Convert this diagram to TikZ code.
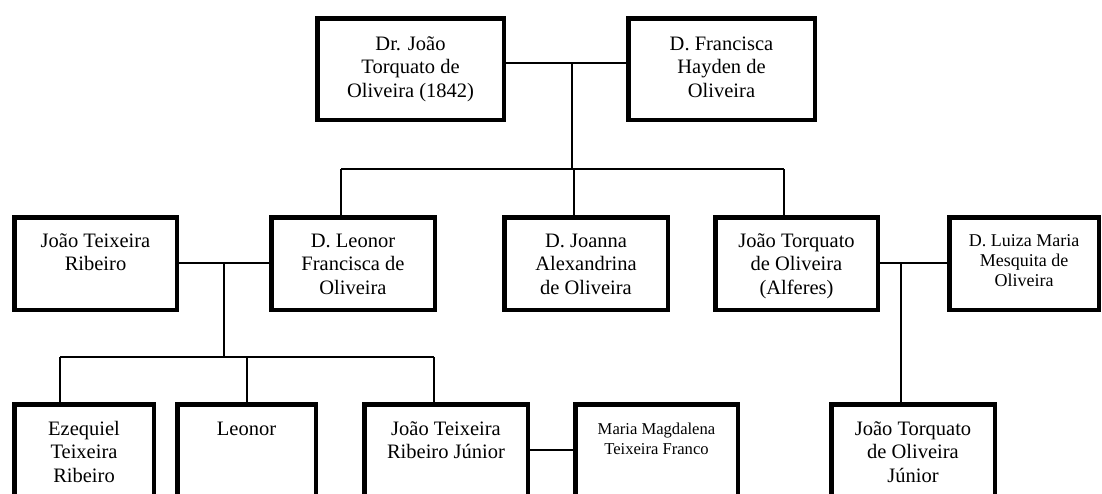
\documentclass[tikz,border=0pt]{standalone}
\usepackage{fontspec}
\setmainfont{Liberation Serif}
\begin{document}
\begin{tikzpicture}[x=1pt,y=-1pt,
  person/.style={draw, line width=4.5pt, outer sep=0pt, inner sep=0pt},
  % text nodes are placed by the baseline of their last line
  label text/.style={align=center, anchor=base, inner sep=0pt,
    font=\fontsize{20.5}{23.8}\selectfont},
  label small/.style={label text, font=\fontsize{18}{20.3}\selectfont},
  label tiny/.style={label text, font=\fontsize{16.6}{20.5}\selectfont},
  link/.style={line width=1.5pt}]
\useasboundingbox (0,0) rectangle (1102,493);
\clip (0,0) rectangle (1102,493);

% generation 1
\node[person, minimum width=186.5pt, minimum height=101.5pt] (A) at (410.5,69) {};
\node[person, minimum width=186.5pt, minimum height=101.5pt] (B) at (721.5,69) {};
\node[label text] (At) at (410.5,97.6) {Dr. João\\Torquato de\\Oliveira (1842)};
\node[label text] (Bt) at (721.5,97.6) {D. Francisca\\Hayden de\\Oliveira};

% generation 2
\node[person, minimum width=162.5pt, minimum height=92.5pt] (C) at (95.5,263.5) {};
\node[person, minimum width=163.5pt, minimum height=92.5pt] (D) at (353,263.5) {};
\node[person, minimum width=163.5pt, minimum height=92.5pt] (E) at (586,263.5) {};
\node[person, minimum width=162.5pt, minimum height=92.5pt] (F) at (796.5,263.5) {};
\node[person, minimum width=149.5pt, minimum height=92.5pt] (G) at (1024,263.5) {};
\node[label text] (Ct) at (95.5,270.8) {João Teixeira\\Ribeiro};
\node[label text] (Dt) at (353,294.6) {D. Leonor\\Francisca de\\Oliveira};
\node[label text] (Et) at (586,294.6) {D. Joanna\\Alexandrina\\de Oliveira};
\node[label text] (Ft) at (796.5,294.6) {João Torquato\\de Oliveira\\(Alferes)};
\node[label small] (Gt) at (1024,286.6) {D. Luiza Maria\\Mesquita de\\Oliveira};

% generation 3
\node[person, minimum width=139.5pt, minimum height=93.5pt] (H) at (84,451) {};
\node[person, minimum width=138.5pt, minimum height=93.5pt] (I) at (246.5,451) {};
\node[person, minimum width=163.5pt, minimum height=93.5pt] (J) at (446,451) {};
\node[person, minimum width=162.5pt, minimum height=93.5pt] (K) at (656.5,451) {};
\node[person, minimum width=163.5pt, minimum height=93.5pt] (L) at (913,451) {};
\node[label text] (Ht) at (84,482.6) {Ezequiel\\Teixeira\\Ribeiro};
\node[label text] (It) at (246.5,435) {Leonor};
\node[label text] (Jt) at (446,458.8) {João Teixeira\\Ribeiro Júnior};
\node[label tiny] (Kt) at (656.5,454.5) {Maria Magdalena\\Teixeira Franco};
\node[label text] (Lt) at (913,482.6) {João Torquato\\de Oliveira\\Júnior};

% junction points
\coordinate (mAB) at (572,63);
\coordinate (busAB) at (572,169);
\coordinate (dD) at (341,169);
\coordinate (dE) at (574,169);
\coordinate (dF) at (784,169);
\coordinate (mCD) at (224,263);
\coordinate (busCD) at (224,357);
\coordinate (dH) at (60,357);
\coordinate (dI) at (247,357);
\coordinate (dJ) at (434,357);
\coordinate (mFG) at (901,263);
\coordinate (mJK) at (0,450);

% couple 1 and children
\draw[link] (A.east |- mAB) -- (B.west |- mAB);
\draw[link] (mAB) -- (busAB);
\draw[link] (dD) -- (dF);
\draw[link] (dD) -- (dD |- D.north);
\draw[link] (dE) -- (dE |- E.north);
\draw[link] (dF) -- (dF |- F.north);

% couple C-D and children
\draw[link] (C.east |- mCD) -- (D.west |- mCD);
\draw[link] (mCD) -- (busCD);
\draw[link] (dH) -- (dJ);
\draw[link] (dH) -- (dH |- H.north);
\draw[link] (dI) -- (dI |- I.north);
\draw[link] (dJ) -- (dJ |- J.north);

% couple J-K
\draw[link] (J.east |- mJK) -- (K.west |- mJK);

% couple F-G and child
\draw[link] (F.east |- mFG) -- (G.west |- mFG);
\draw[link] (mFG) -- (mFG |- L.north);
\end{tikzpicture}
\end{document}
